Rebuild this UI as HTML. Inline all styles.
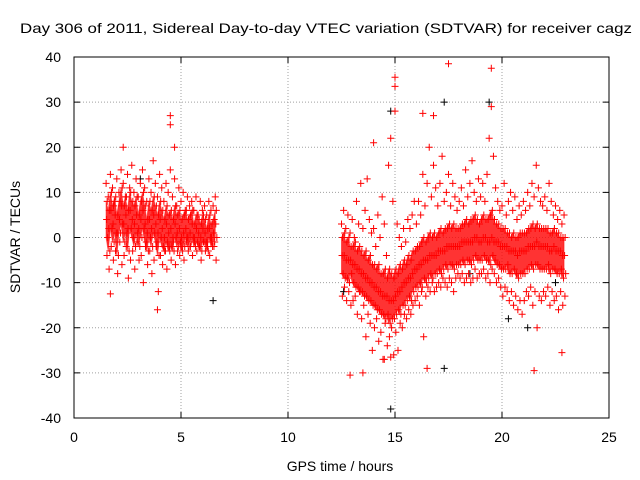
<!DOCTYPE html>
<html><head><meta charset="utf-8"><style>body{margin:0;background:#fff}svg{display:block;font-family:"Liberation Sans",sans-serif}</style></head>
<body>
<svg id="chart" width="640" height="480" xmlns="http://www.w3.org/2000/svg">
<rect width="640" height="480" fill="#fff"/>
<g id="grid"></g><g id="ticks"></g><g id="bands"></g><g id="pts"></g>
<rect x="74" y="57" width="535" height="361" fill="none" stroke="#000" stroke-width="1"/>
<text x="326" y="33" font-size="14" text-anchor="middle" textLength="612" lengthAdjust="spacingAndGlyphs">Day 306 of 2011, Sidereal Day-to-day VTEC variation (SDTVAR) for receiver cagz</text>
<text x="340" y="471" font-size="14" text-anchor="middle">GPS time / hours</text>
<text x="0" y="0" font-size="14" text-anchor="middle" transform="translate(20,237) rotate(-90)">SDTVAR / TECUs</text>
</svg>
<script>
const xTicks=[0,5,10,15,20,25];
const yTicks=[-40,-30,-20,-10,0,10,20,30,40];
const t1Start=1.5;
const hi1=[12,9,14,11,8,13,10,15,12,9,14,11,16,10,13,9,12,15,11,8,13,10,17,12,9,14,11,8,12,10,15,9,13,7,11,8,10,6,9,7,8,6,9,5,8,6,7,5,8,6,7,9];
const um1=[8,6,10,7,9,5,8,11,7,9,6,10,8,7,9,5,8,10,7,4,8,6,9,7,5,8,6,4,7,5,6,4,7,5,6,4,5,6,4,5,6,3,5,4,3,5,4,2,5,3,4,6];
const mid1=[4,2,6,3,5,1,4,7,3,5,2,6,4,3,5,2,4,6,3,1,4,2,5,3,1,4,2,0,3,1,2,0,3,1,2,0,1,2,0,1,3,0,2,1,0,2,1,-1,2,0,1,3];
const lm1=[0,-3,2,-1,1,-4,1,3,-1,1,-3,2,0,-2,1,-2,0,2,-1,-3,0,-2,1,-1,-4,0,-2,-3,-1,-3,-2,-3,0,-2,-1,-3,-2,0,-2,-1,0,-2,-1,-2,-3,-1,-1,-3,0,-2,-1,0];
const lo1=[-4,-7,-2,-5,-3,-8,-1,-6,-4,-2,-9,-5,-3,-7,-1,-5,-4,-10,-2,-6,-3,-8,-5,-2,-12,-4,-6,-3,-7,-2,-5,-1,-6,-3,-4,-2,-5,-1,-3,-2,-4,-1,-3,-2,-5,-1,-3,-2,-4,-1,-2,-5];
const t2Start=12.5;
const hi2=[3,6,2,5,1, 4,0,8,3,12,2,6,13,4,1, 2,-2,5,0,9,3,-4,16,22,8, 28,3,0,-2,2,-1,4,2,5,8, 3,8,5,14,7,12,20,9,16,11, 7,12,18,8,10,14,7,12,9,6, 8,11,7,15,9,12,17,10,8,13, 9,12,8,14,22,29,18,11,8,6, 7,12,5,8,10,6,9,4,7,5, 8,6,10,7,12,9,16,11,8,7, 9,6,12,8,5,7,4,6,3,5];
const um2=[0,1,-1,0,-2, -2,-1,-3,-2,-3,-4,-3,-5,-4,-6, -6,-7,-6,-8,-8,-7,-9,-7,-8,-9, -7,-8,-6,-7,-5,-6,-4,-5,-3,-3, -2,-2,-1,0,-1,0,1,0,1,0, 1,2,1,2,2,3,2,3,2,2, 2,3,3,4,3,4,4,5,4,3, 4,5,4,4,5,6,4,3,3,2, 2,2,1,1,0,1,0,0,1,1, 1,1,2,2,3,2,3,2,2,2, 2,2,1,1,2,1,1,0,0,0];
const mid2=[-4,-4,-5,-5,-5, -6,-6,-7,-7,-8,-8,-9,-9,-10,-10, -11,-11,-12,-12,-13,-13,-13,-14,-14,-14, -13,-12,-12,-11,-10,-10,-9,-9,-8,-7, -7,-6,-6,-5,-5,-5,-4,-4,-4,-4, -3,-3,-3,-3,-2,-2,-2,-2,-2,-2, -2,-1,-1,-1,-1,-1,-1,0,0,-1, -1,0,0,-1,-1,0,-1,-1,-1,-2, -2,-2,-2,-3,-3,-3,-3,-4,-3,-3, -3,-3,-2,-2,-2,-2,-1,-2,-2,-2, -2,-2,-3,-3,-2,-3,-3,-3,-4,-4];
const lm2=[-8,-9,-9,-10,-8, -10,-11,-11,-12,-12,-13,-13,-14,-14,-15, -15,-16,-16,-17,-17,-18,-17,-19,-18,-18, -17,-16,-17,-15,-15,-14,-13,-14,-12,-11, -11,-10,-11,-9,-10,-9,-8,-9,-8,-8, -7,-8,-7,-6,-7,-6,-6,-7,-6,-6, -6,-5,-6,-5,-5,-6,-5,-4,-5,-5, -5,-4,-5,-5,-6,-4,-5,-6,-6,-7, -7,-7,-6,-8,-8,-7,-8,-9,-8,-8, -8,-7,-7,-6,-7,-6,-6,-7,-7,-7, -7,-6,-8,-7,-7,-8,-8,-7,-9,-8];
const lo2=[-13,-11,-14,-12,-15, -14,-13,-17,-12,-18,-15,-22,-17,-19,-25, -20,-18,-23,-21,-27,-19,-24,-22,-20,-26, -21,-25,-19,-20,-17,-18,-16,-17,-15,-14, -13,-15,-12,-22,-13,-11,-12,-10,-12,-11, -10,-11,-9,-10,-11,-9,-10,-12,-9,-8, -9,-8,-10,-9,-8,-10,-9,-7,-9,-8, -8,-7,-9,-8,-10,-7,-8,-10,-9,-11, -13,-11,-12,-14,-12,-15,-13,-16,-14,-17, -14,-12,-13,-11,-15,-12,-20,-13,-14,-12, -13,-11,-15,-12,-14,-13,-16,-12,-15,-13];
const outRedX=[17.5,19.5,15,15,12.9,13.5,14.5,14.8,16.5,21.5,22.8,4.5,4.5,4.7,14,16.3,16.8,2.3,3.9,1.7];
const outRedY=[38.5,37.5,35.5,33.5,-30.5,-30,-27,-26.5,-29,-29.5,-25.5,27,25,20,21,27.5,27,20,-16,-12.5];
const outBlackX=[14.8,17.3,19.4,14.8,17.3,20.3,21.2,6.5,12.6,18.5,22.5,3.1];
const outBlackY=[-38,30,30,28,-29,-18,-20,-14,-12,-8,-10,13];

const X=v=>74+v*535/25, Y=v=>418-(v+40)*361/80;
const NS="http://www.w3.org/2000/svg";
const grid=document.getElementById('grid'), ticks=document.getElementById('ticks'), pts=document.getElementById('pts'), bands=document.getElementById('bands');
function mk(tag,attrs,parent){const e=document.createElementNS(NS,tag);for(const k in attrs)e.setAttribute(k,attrs[k]);parent.appendChild(e);return e;}
xTicks.forEach(v=>{const x=X(v);
 if(v>0&&v<25){const g=mk('line',{x1:x,x2:x,y1:57,y2:418,stroke:'#a0a0a0','stroke-dasharray':'1,2'},grid);
 
 }
 mk('line',{x1:x,x2:x,y1:418,y2:412,stroke:'#000'},ticks);mk('line',{x1:x,x2:x,y1:57,y2:63,stroke:'#000'},ticks);
 const t=mk('text',{x:x,y:442,'font-size':14,'text-anchor':'middle'},ticks);t.textContent=v;
 
 });
yTicks.forEach(v=>{const y=Y(v);
 if(v>-40&&v<40){const g=mk('line',{x1:74,x2:609,y1:y,y2:y,stroke:'#a0a0a0','stroke-dasharray':'1,2'},grid);
 
 }
 mk('line',{x1:74,x2:80,y1:y,y2:y,stroke:'#000'},ticks);mk('line',{x1:609,x2:603,y1:y,y2:y,stroke:'#000'},ticks);
 const t=mk('text',{x:61,y:y+5,'font-size':14,'text-anchor':'end'},ticks);t.textContent=v;
 
 });
function band(t0,upper,lower){
 let d='';upper.forEach((v,i)=>{d+=(i?'L':'M')+X(t0+i*0.1)+','+Y(v);});
 for(let i=lower.length-1;i>=0;i--)d+='L'+X(t0+i*0.1)+','+Y(lower[i]);
 const p=mk('path',{d:d+'Z',fill:'#f00','fill-opacity':0.8,stroke:'#f00','stroke-opacity':0.5},bands);
 
 }
band(t1Start,um1,lm1);band(t2Start,um2,lm2);
function cross(t,v,c){const x=X(t),y=Y(v);
 const p=mk('path',{d:`M${x-3.5},${y}h7M${x},${y-3.5}v7`,stroke:c,'stroke-width':1,fill:'none'},pts);
 
 }
outBlackX.forEach((t,i)=>cross(t,outBlackY[i],'#000'));
const shift=[0,0.05,0.025,0.075,0.04];
[hi1,um1,mid1,lm1,lo1].forEach((a,k)=>a.forEach((v,i)=>cross(t1Start+i*0.1+shift[k],v,'#f00')));
[hi2,um2,mid2,lm2,lo2].forEach((a,k)=>a.forEach((v,i)=>cross(t2Start+i*0.1+shift[k],v,'#f00')));
outRedX.forEach((t,i)=>cross(t,outRedY[i],'#f00'));
</script>
</body></html>
